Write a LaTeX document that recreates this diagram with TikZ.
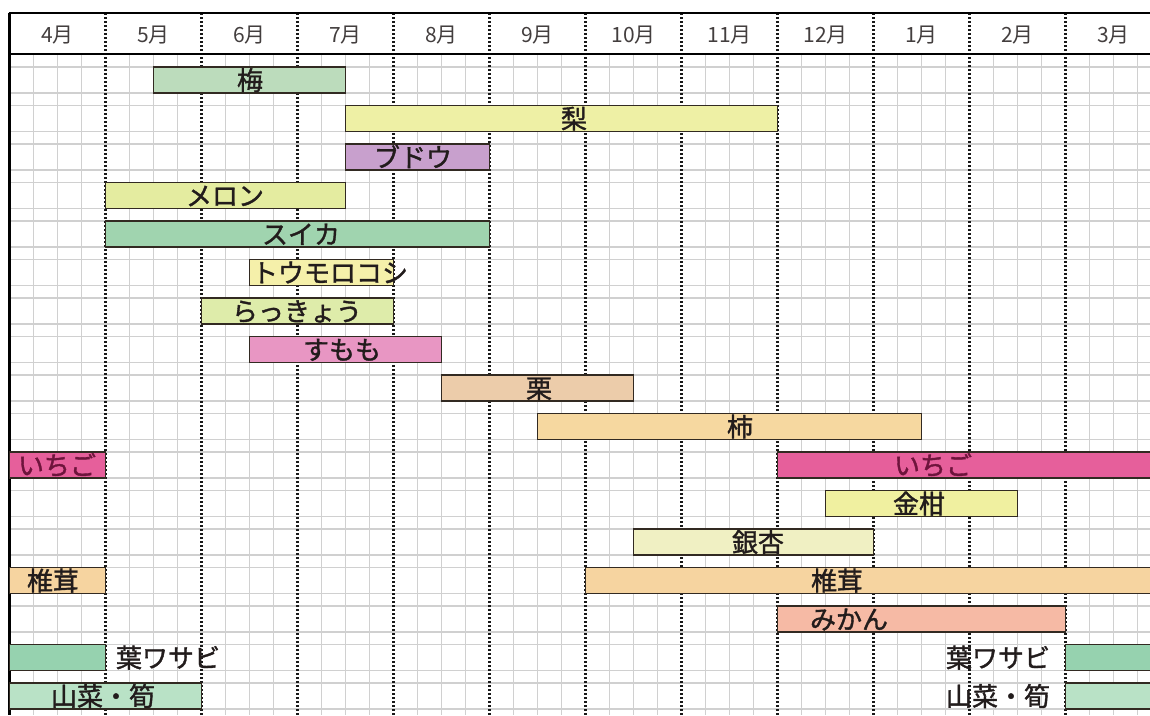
\documentclass[tikz,border=0pt]{standalone}
\usepackage{fontspec}
\newfontfamily\jp{Noto Sans CJK JP}[AutoFakeBold=1.4]

\definecolor{gridgray}{RGB}{208,208,208}
\definecolor{barline}{RGB}{50,42,34}
\definecolor{labeltext}{RGB}{34,28,28}
\definecolor{ichigotext}{RGB}{110,20,60}
\definecolor{ume}{RGB}{188,220,188}
\definecolor{nashi}{RGB}{238,240,165}
\definecolor{budou}{RGB}{200,160,205}
\definecolor{melon}{RGB}{228,236,160}
\definecolor{suika}{RGB}{160,212,175}
\definecolor{toumoro}{RGB}{245,240,170}
\definecolor{rakkyo}{RGB}{222,236,170}
\definecolor{sumomo}{RGB}{232,150,195}
\definecolor{kuri}{RGB}{236,204,170}
\definecolor{kaki}{RGB}{246,216,160}
\definecolor{ichigo}{RGB}{230,95,155}
\definecolor{kinkan}{RGB}{240,240,160}
\definecolor{ginnan}{RGB}{240,240,195}
\definecolor{shiitake}{RGB}{246,212,160}
\definecolor{mikan}{RGB}{246,186,165}
\definecolor{hawasabi}{RGB}{150,210,175}
\definecolor{sansai}{RGB}{185,226,198}

\tikzset{
  cropbar/.style={rectangle, draw=barline, line width=1.8pt, minimum height=26pt, inner sep=0pt},
  cropname/.style={font=\jp\bfseries\fontsize{26}{26}\selectfont, text=labeltext, anchor=base, inner sep=0pt},
  monthname/.style={font=\jp\fontsize{21}{21}\selectfont, text=labeltext!85, anchor=base, inner sep=0pt},
  monthline/.style={draw=black!90, line width=2.2pt, dash pattern=on 2.2pt off 1.8pt}
}

\begin{document}
\begin{tikzpicture}[x=1pt,y=-1pt]

        \useasboundingbox (0,0) rectangle (1150,715);
        \clip (0,0) rectangle (1150,715);

        \foreach \r in {0,...,16} {
          \draw[gridgray, line width=1.5pt] (9.5,{67+38.5*\r}) -- (1150,{67+38.5*\r});
          \draw[gridgray, line width=1.5pt] (9.5,{93+38.5*\r}) -- (1150,{93+38.5*\r});
        }
        \foreach \m in {0,...,11}
          \foreach \q in {1,2,3}
            \draw[gridgray, line width=1.5pt] ({9.5+96*\m+24*\q},54) -- ({9.5+96*\m+24*\q},715);

        \foreach \m in {1,...,11}
          \draw[monthline] ({9.5+96*\m},13) -- ({9.5+96*\m},715);
        \draw[line width=2.2pt] (9.5,13) -- (9.5,715);
        \draw[line width=2.2pt] (8.5,13) -- (1150,13);
        \draw[line width=2.2pt] (8.5,54) -- (1150,54);

        \begin{scope}[every node/.style={monthname}]
          \foreach \m/\month in {0/4月,1/5月,2/6月,3/7月,4/8月,5/9月,6/10月,7/11月,8/12月,9/1月,10/2月,11/3月}
            \node (month\m) at ({57.5+96*\m},42) {\month};
        \end{scope}

        \begin{scope}[every node/.style={cropbar}]
          \node[fill=ume,      minimum width=192pt] (ume)       at (249.5,80)   {};
          \node[fill=nashi,    minimum width=432pt] (nashi)     at (561.5,118.5) {};
          \node[fill=budou,    minimum width=144pt] (budou)     at (417.5,157)  {};
          \node[fill=melon,    minimum width=240pt] (melon)     at (225.5,195.5) {};
          \node[fill=suika,    minimum width=384pt] (suika)     at (297.5,234)  {};
          \node[fill=toumoro,  minimum width=144pt] (toumoro)   at (321.5,272.5) {};
          \node[fill=rakkyo,   minimum width=192pt] (rakkyo)    at (297.5,311)  {};
          \node[fill=sumomo,   minimum width=192pt] (sumomo)    at (345.5,349.5) {};
          \node[fill=kuri,     minimum width=192pt] (kuri)      at (537.5,388)  {};
          \node[fill=kaki,     minimum width=384pt] (kaki)      at (729.5,426.5) {};
          \node[fill=ichigo,   minimum width=96pt]  (ichigoA)   at (57.5,465)   {};
          \node[fill=ichigo,   minimum width=384pt] (ichigoB)   at (969.5,465)  {};
          \node[fill=kinkan,   minimum width=192pt] (kinkan)    at (921.5,503.5) {};
          \node[fill=ginnan,   minimum width=240pt] (ginnan)    at (753.5,542)  {};
          \node[fill=shiitake, minimum width=96pt]  (shiitakeA) at (57.5,580.5) {};
          \node[fill=shiitake, minimum width=576pt] (shiitakeB) at (873.5,580.5) {};
          \node[fill=mikan,    minimum width=288pt] (mikan)     at (921.5,619)  {};
          \node[fill=hawasabi, minimum width=96pt]  (hawasabiA) at (57.5,657.5) {};
          \node[fill=hawasabi, minimum width=96pt]  (hawasabiB) at (1113.5,657.5) {};
          \node[fill=sansai,   minimum width=192pt] (sansaiA)   at (105.5,696)  {};
          \node[fill=sansai,   minimum width=96pt]  (sansaiB)   at (1113.5,696) {};
        \end{scope}

        \begin{scope}[every node/.style={cropname}]
          \node (umeL)       at (250,90)    {梅};
          \node (nashiL)     at (574,128.5) {梨};
          \node (budouL)     at (413,167)   {ブドウ};
          \node (melonL)     at (225,205.5) {メロン};
          \node (suikaL)     at (301,244)   {スイカ};
          \node (toumoroL)   at (330,282.5) {トウモロコシ};
          \node (rakkyoL)    at (297,321)   {らっきょう};
          \node (sumomoL)    at (342,359.5) {すもも};
          \node (kuriL)      at (539,398)   {栗};
          \node (kakiL)      at (740,436.5) {柿};
          \node[text=ichigotext] (ichigoAL) at (57,475) {いちご};
          \node[text=ichigotext] (ichigoBL) at (933,475) {いちご};
          \node (kinkanL)    at (919,513.5) {金柑};
          \node (ginnanL)    at (758,552)   {銀杏};
          \node (shiitakeAL) at (53,590.5)  {椎茸};
          \node (shiitakeBL) at (837,590.5) {椎茸};
          \node (mikanL)     at (849,629)   {みかん};
          \node (hawasabiAL) at (168,667.5) {葉ワサビ};
          \node (hawasabiBL) at (998,667.5) {葉ワサビ};
          \node (sansaiAL)   at (103,706)   {山菜・筍};
          \node (sansaiBL)   at (998,706)   {山菜・筍};
        \end{scope}

      \end{tikzpicture}
\end{document}
